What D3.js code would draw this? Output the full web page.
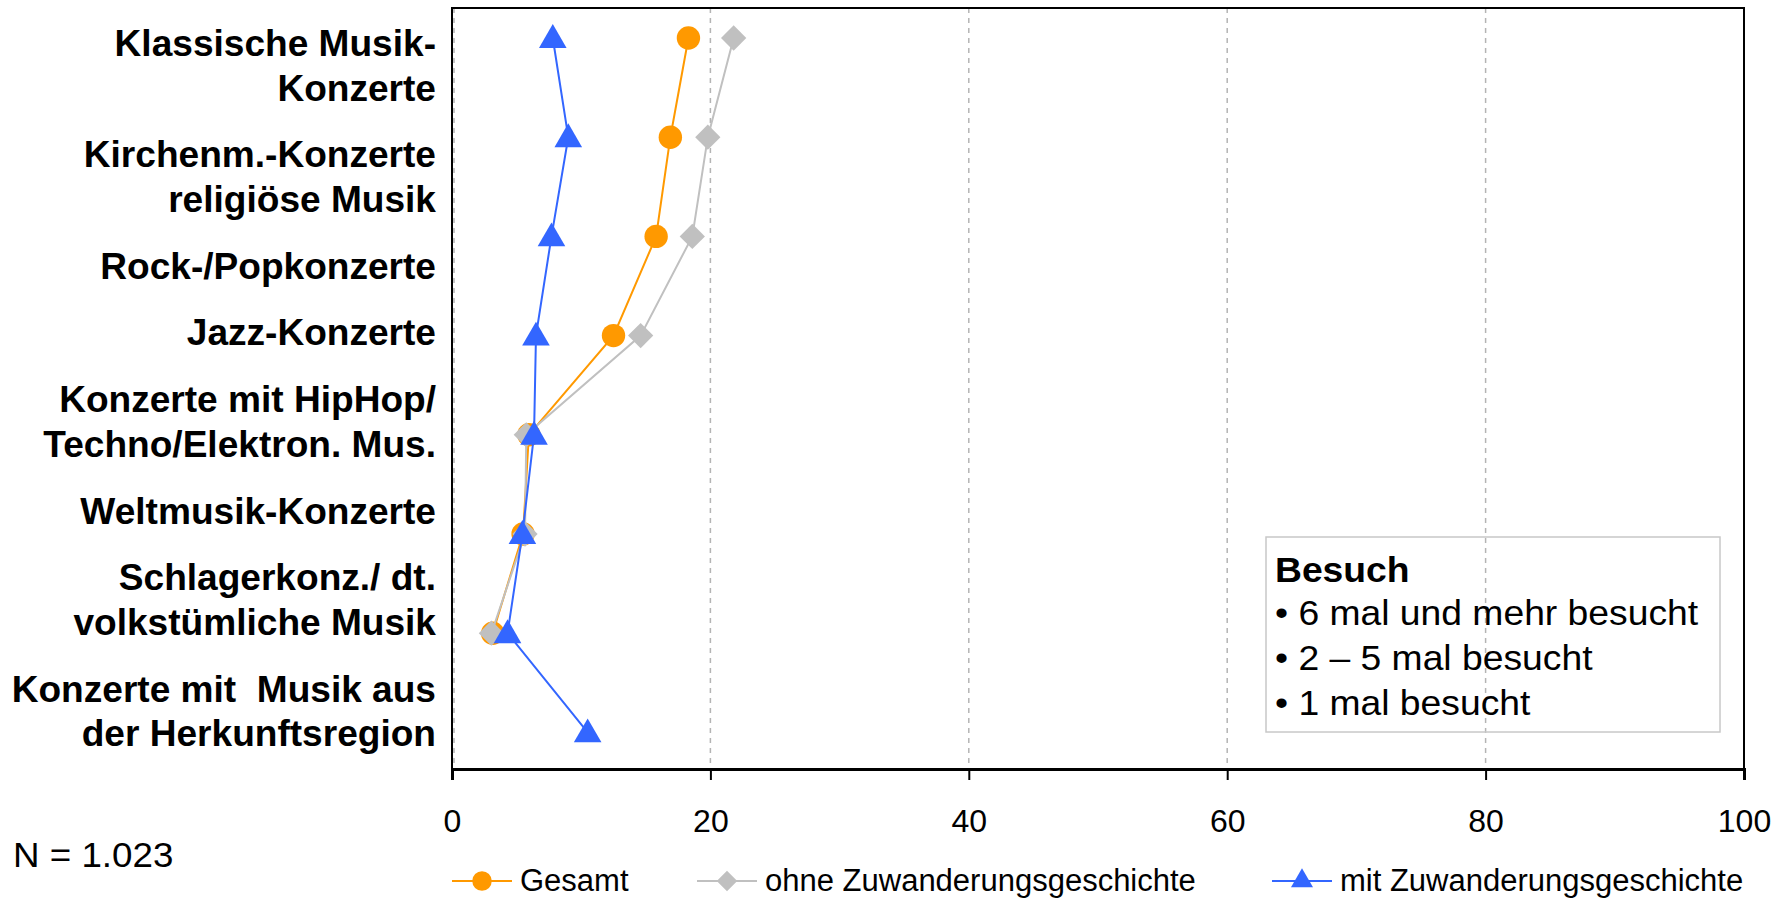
<!DOCTYPE html>
<html>
<head>
<meta charset="utf-8">
<script src="https://cdn.jsdelivr.net/npm/d3@7"></script>
<style>
  html, body { margin: 0; padding: 0; background: #fff; }
  svg { display: block; font-family: "Liberation Sans", Arial, sans-serif; }
  text { white-space: pre; }
</style>
</head>
<body>
<svg id="chart" width="1778" height="899"></svg>
<script>
// ---------- data ----------
const categories = [
  "Klassische Musik-Konzerte",
  "Kirchenm.-Konzerte religiöse Musik",
  "Rock-/Popkonzerte",
  "Jazz-Konzerte",
  "Konzerte mit HipHop/Techno/Elektron. Mus.",
  "Weltmusik-Konzerte",
  "Schlagerkonz./ dt. volkstümliche Musik",
  "Konzerte mit Musik aus der Herkunftsregion"
];
const categoryLabelLines = [
  ["Klassische Musik-", "Konzerte"],
  ["Kirchenm.-Konzerte", "religiöse Musik"],
  ["Rock-/Popkonzerte"],
  ["Jazz-Konzerte"],
  ["Konzerte mit HipHop/", "Techno/Elektron. Mus."],
  ["Weltmusik-Konzerte"],
  ["Schlagerkonz./ dt.", "volkstümliche Musik"],
  ["Konzerte mit  Musik aus", "der Herkunftsregion"]
];
const gesamt = [18.3, 16.9, 15.8, 12.5, 5.95, 5.5, 3.15, null];
const ohneZuw = [21.8, 19.8, 18.6, 14.6, 5.75, 5.65, 3.05, null];
const mitZuw = [7.8, 9.0, 7.7, 6.5, 6.35, 5.45, 4.3, 10.5];
const seriesNames = ["Gesamt", "ohne Zuwanderungsgeschichte", "mit Zuwanderungsgeschichte"];
const xTicks = [0, 20, 40, 60, 80, 100];
const legendTitle = "Besuch";
const legendLines = ["• 6 mal und mehr besucht", "• 2 – 5 mal besucht", "• 1 mal besucht"];
const noteText = "N = 1.023";

// ---------- layout ----------
const svg = d3.select("#chart");
const plot = { left: 452, right: 1744, top: 8, bottom: 769 };

const x = d3.scaleLinear().domain([0, 100]).range([plot.left, plot.right]);
const y = d3.scalePoint().domain(categories).range([38, 732.4]);

const colors = ["#FF9900", "#C0C0C0", "#3366FF"];
const seriesData = [gesamt, ohneZuw, mitZuw];
const symbols = [d3.symbolCircle, d3.symbolSquare, d3.symbolTriangle];
const rot = [0, 45, 0];

// horizontal stretch helper (reference text is slightly wide)
function stretch(sel, x0, k) {
  sel.attr("transform", `translate(${x0},0) scale(${k},1) translate(${-x0},0)`);
}

// gridlines
svg.append("g").selectAll("line")
  .data(xTicks.filter(d => d < 100))
  .join("line")
  .attr("x1", d => x(d) + (d === 0 ? 2 : 0)).attr("x2", d => x(d) + (d === 0 ? 2 : 0))
  .attr("y1", plot.top).attr("y2", plot.bottom)
  .attr("stroke", "#B4B4B4").attr("stroke-width", 1.5)
  .attr("stroke-dasharray", "5,5");

// frame
svg.append("rect")
  .attr("x", plot.left).attr("y", plot.top)
  .attr("width", plot.right - plot.left).attr("height", plot.bottom - plot.top)
  .attr("fill", "none").attr("stroke", "#000").attr("stroke-width", 2);

// x axis
const xAxis = d3.axisBottom(x).tickValues(xTicks).tickSize(11).tickPadding(29).tickFormat(d3.format("d"));
const gx = svg.append("g").attr("transform", `translate(0,${plot.bottom})`).call(xAxis);
gx.select(".domain").attr("stroke", "#000").attr("stroke-width", 3);
gx.selectAll(".tick line").attr("stroke", "#000").attr("stroke-width", 2);
gx.selectAll(".tick text").attr("font-size", 32).attr("fill", "#000")
  .attr("font-family", "'Liberation Sans', Arial, sans-serif");

// series
seriesData.forEach((vals, si) => {
  const pts = categories.map((c, i) => ({ c, v: vals[i] })).filter(p => p.v != null);
  const line = d3.line().x(p => x(p.v)).y(p => y(p.c));
  const g = svg.append("g");
  g.append("path").datum(pts).attr("d", line)
    .attr("fill", "none").attr("stroke", colors[si]).attr("stroke-width", 2);
  const size = si === 0 ? 430 : (si === 1 ? 320 : 330);
  g.selectAll("path.m").data(pts).join("path").attr("class", "m")
    .attr("transform", p => `translate(${x(p.v)},${y(p.c) + (si === 2 ? 2 : 0)}) rotate(${rot[si]})`)
    .attr("d", d3.symbol().type(symbols[si]).size(size))
    .attr("fill", colors[si]);
});

// category labels (text block right-aligned)
const labelG = svg.append("g").attr("font-weight", "bold").attr("font-size", 36).attr("text-anchor", "end");
stretch(labelG, 436, 1.03);
let lineIdx = 0;
categoryLabelLines.forEach((lines, pi) => {
  lines.forEach(t => {
    labelG.append("text")
      .attr("x", 436)
      .attr("y", 56 + lineIdx * 44.7 + pi * 22)
      .text(t);
    lineIdx++;
  });
});

// in-plot legend box
const lb = { x: 1266, y: 537, w: 454, h: 195 };
svg.append("rect").attr("x", lb.x).attr("y", lb.y).attr("width", lb.w).attr("height", lb.h)
  .attr("fill", "none").attr("stroke", "#C8C8C8").attr("stroke-width", 1.5);
const lbText = svg.append("g");
stretch(lbText, lb.x + 9, 1.065);
lbText.append("text").attr("x", lb.x + 9).attr("y", lb.y + 45)
  .attr("font-size", 35).attr("font-weight", "bold").text(legendTitle);
lbText.selectAll("text.l").data(legendLines).join("text").attr("class", "l")
  .attr("x", lb.x + 9).attr("y", (d, i) => lb.y + 88 + i * 45)
  .attr("font-size", 35).text(d => d);

// note
const noteG = svg.append("g");
stretch(noteG, 13, 1.05);
noteG.append("text").attr("x", 13).attr("y", 867).attr("font-size", 35).text(noteText);

// bottom legend
const legendX = [452, 697, 1272];
const lg = svg.append("g");
seriesNames.forEach((name, i) => {
  const cx = legendX[i];
  const cy = 881;
  lg.append("line").attr("x1", cx).attr("x2", cx + 60).attr("y1", cy).attr("y2", cy)
    .attr("stroke", colors[i]).attr("stroke-width", 2);
  lg.append("path").attr("transform", `translate(${cx + 30},${cy}) rotate(${rot[i]})`)
    .attr("d", d3.symbol().type(symbols[i]).size(i === 0 ? 300 : 210))
    .attr("fill", colors[i]);
  lg.append("text").attr("x", cx + 68).attr("y", cy + 10).attr("font-size", 31).text(name);
});
</script>
</body>
</html>
